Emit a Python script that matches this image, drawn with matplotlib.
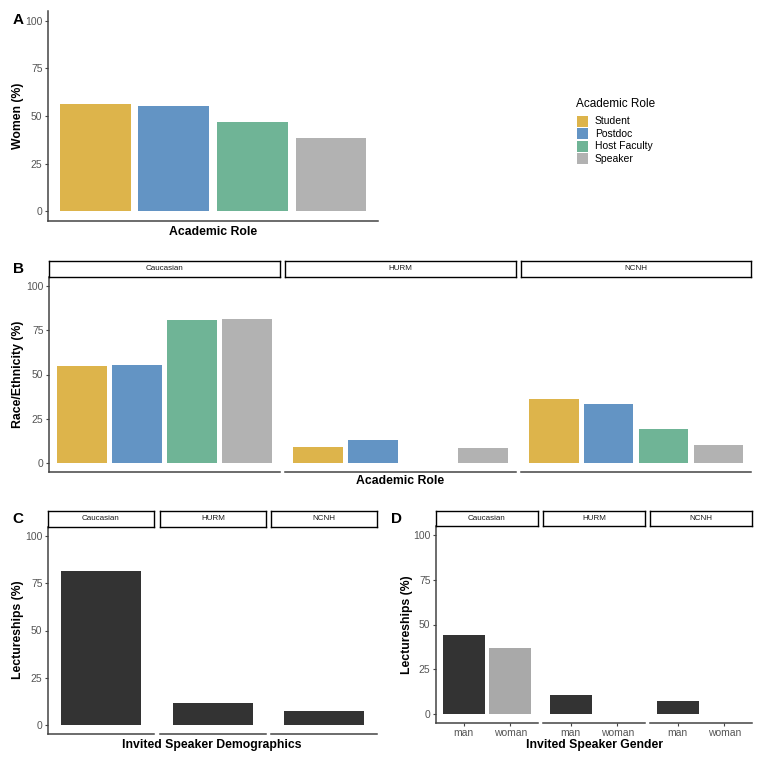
import numpy as np
import matplotlib
matplotlib.use('Agg')
import matplotlib.pyplot as plt
from matplotlib.patches import Rectangle

plt.rcParams['font.family'] = ['Liberation Sans', 'DejaVu Sans']

# data
roles = ['Student', 'Postdoc', 'Host Faculty', 'Speaker']
role_colors = ['#DDB44B', '#6394C4', '#6FB496', '#B2B2B2']
women_pct = [56.5, 55.3, 46.6, 38.4]

groups = ['Caucasian', 'HURM', 'NCNH']
caucasian_pct = [54.6, 55.6, 80.8, 81.2]
hurm_pct = [8.9, 13.2, np.nan, 8.3]
ncnh_pct = [36.3, 33.3, 19.2, 10.4]

speaker_demo_pct = [81.7, 11.3, 7.4]

genders = ['man', 'woman']
gender_colors = ['#333333', '#A9A9A9']
caucasian_gender_pct = [44.2, 36.8]
hurm_gender_pct = [10.8, np.nan]
ncnh_gender_pct = [7.1, np.nan]

W = H = 764
fig = plt.figure(figsize=(7.64, 7.64), dpi=100)

TICK_COLOR = '#555555'
LINE_COLOR = '#444444'
TICK_SIZE = 7.5
TITLE_SIZE = 8.8


def px_axes(l, t, r, b):
    return fig.add_axes([l / W, 1 - b / H, (r - l) / W, (b - t) / H])


def style_axes(ax, ncat, show_y, xticklabels=None):
    ax.set_xlim(0.4, ncat + 0.6)
    ax.set_ylim(-5, 105)
    for s in ['top', 'right']:
        ax.spines[s].set_visible(False)
    ax.spines['bottom'].set_color(LINE_COLOR)
    ax.spines['bottom'].set_linewidth(1.1)
    if show_y:
        ax.spines['left'].set_color(LINE_COLOR)
        ax.spines['left'].set_linewidth(1.1)
        ax.set_yticks([0, 25, 50, 75, 100])
        ax.tick_params(axis='y', colors=LINE_COLOR, labelcolor=TICK_COLOR,
                       labelsize=TICK_SIZE, length=2.5, width=0.8, pad=1.5)
    else:
        ax.spines['left'].set_visible(False)
        ax.set_yticks([])
    if xticklabels is None:
        ax.set_xticks([])
    else:
        ax.set_xticks(range(1, ncat + 1))
        ax.set_xticklabels(xticklabels)
        ax.tick_params(axis='x', colors=LINE_COLOR, labelcolor=TICK_COLOR,
                       labelsize=TICK_SIZE, length=2.5, width=0.8, pad=1)


def strip(l, t, r, b, text):
    sa = px_axes(l, t, r, b)
    sa.set_xticks([])
    sa.set_yticks([])
    for s in sa.spines.values():
        s.set_color('black')
        s.set_linewidth(1.0)
    sa.text(0.5, 0.5, text, ha='center', va='center', fontsize=5.8,
            color='#1A1A1A', transform=sa.transAxes)


def bars(ax, values, colors):
    xs = np.arange(1, len(values) + 1)
    for x, v, c in zip(xs, values, colors):
        if np.isnan(v):
            continue
        ax.bar(x, v, width=0.9, color=c)


def ytitle(x, y, text):
    fig.text(x / W, 1 - y / H, text, rotation=90, ha='center', va='center',
             fontsize=TITLE_SIZE, fontweight='bold')


def xtitle(x, y, text):
    fig.text(x / W, 1 - y / H, text, ha='center', va='center',
             fontsize=TITLE_SIZE, fontweight='bold')


def letter(x, y, text):
    fig.text(x / W, 1 - y / H, text, ha='center', va='center',
             fontsize=11, fontweight='bold')


# Panel A
axA = px_axes(48, 11, 378, 221)
bars(axA, women_pct, role_colors)
style_axes(axA, 4, True)
ytitle(18, 116, 'Women (%)')
xtitle(213, 232, 'Academic Role')
letter(18, 20, 'A')

# legend, drawn by hand to match the ggplot key layout
fig.text(576 / W, 1 - 104 / H, 'Academic Role', ha='left', va='center',
         fontsize=8.5)
for i, (lab, col) in enumerate(zip(roles, role_colors)):
    yc = 121.5 + i * 12.4
    fig.patches.append(Rectangle((577 / W, 1 - (yc + 5.5) / H), 11 / W, 11 / H,
                                 transform=fig.transFigure, facecolor=col,
                                 edgecolor='none'))
    fig.text(595 / W, 1 - yc / H, lab, ha='left', va='center', fontsize=7.5)

# Panel B
b_panels = [(49, 280), (285, 516), (521, 751)]
b_data = [caucasian_pct, hurm_pct, ncnh_pct]
for i, ((l, r), g, vals) in enumerate(zip(b_panels, groups, b_data)):
    ax = px_axes(l, 277, r, 472)
    bars(ax, vals, role_colors)
    style_axes(ax, 4, i == 0)
    strip(l, 261, r, 277, g)
ytitle(18, 374, 'Race/Ethnicity (%)')
xtitle(400, 481, 'Academic Role')
letter(18, 269, 'B')

# Panel C
c_panels = [(48, 154), (160, 266), (271, 377)]
for i, ((l, r), g, v) in enumerate(zip(c_panels, groups, speaker_demo_pct)):
    ax = px_axes(l, 527, r, 734)
    bars(ax, [v], ['#333333'])
    style_axes(ax, 1, i == 0)
    strip(l, 511, r, 527, g)
ytitle(18, 630, 'Lectureships (%)')
xtitle(212, 745, 'Invited Speaker Demographics')
letter(18, 519, 'C')

# Panel D
d_panels = [(436, 538), (543, 645), (650, 752)]
d_data = [caucasian_gender_pct, hurm_gender_pct, ncnh_gender_pct]
for i, ((l, r), g, vals) in enumerate(zip(d_panels, groups, d_data)):
    ax = px_axes(l, 526, r, 723)
    bars(ax, vals, gender_colors)
    style_axes(ax, 2, i == 0, xticklabels=genders)
    strip(l, 511, r, 526, g)
ytitle(407, 625, 'Lectureships (%)')
xtitle(594, 745, 'Invited Speaker Gender')
letter(396, 519, 'D')

fig.savefig('out.png', dpi=100)
